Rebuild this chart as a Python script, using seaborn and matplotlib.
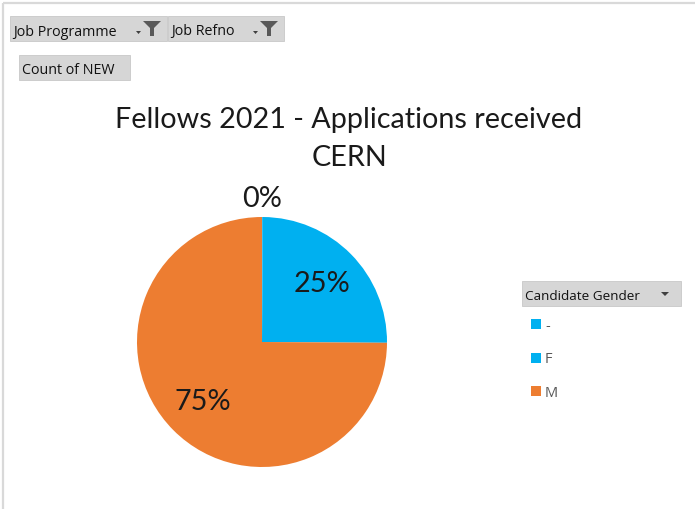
import matplotlib
matplotlib.use("Agg")
import matplotlib.pyplot as plt
import seaborn as sns
import numpy as np
from matplotlib.patches import Rectangle, Polygon

sns.set_theme(style="white")
plt.rcParams['font.family'] = ['Lato', 'DejaVu Sans']

# ---- data ----
categories = ["-", "F", "M"]
share_pct = [0.1, 25.0, 74.9]
pct_labels = ["0%", "25%", "75%"]
title_lines = ["Fellows 2021 - Applications received", "CERN"]
filter_buttons = ["Job Programme", "Job Refno"]
value_button = "Count of NEW"
legend_title = "Candidate Gender"

colors = ["#00B0F0", "#00B0F0", "#ED7D31"]

fig = plt.figure(figsize=(6.95, 5.10), dpi=100)
ax = fig.add_axes([0, 0, 1, 1])

# pie
cx, cy, r = 262, 343, 125
wedges, _ = ax.pie(share_pct, colors=colors, startangle=-90, counterclock=True,
                   center=(cx, cy), radius=r, frame=True,
                   wedgeprops=dict(linewidth=0))
ax.set_xlim(0, 695)
ax.set_ylim(510, 0)
ax.axis("off")

# frame
ax.plot([3, 3], [4, 510], color="#D9D9D9", lw=1.6, solid_capstyle="butt")
ax.plot([3, 695], [4, 4], color="#D9D9D9", lw=1.6, solid_capstyle="butt")

for w, lab, pct in zip(wedges, pct_labels, share_pct):
    mid = np.deg2rad((w.theta1 + w.theta2) / 2)
    d = 1.15 if pct < 1 else 0.67
    ax.text(cx + d * r * np.cos(mid), cy + d * r * np.sin(mid), lab,
            ha="center", va="center", fontsize=20.8, color="#1a1a1a")

# title
ax.text(349, 120, title_lines[0], ha="center", va="center", fontsize=20.7, color="#1a1a1a")
ax.text(349, 158, title_lines[1], ha="center", va="center", fontsize=20.7, color="#1a1a1a")

BTN = "#D6D6D6"
def button(x0, x1, y0, y1, label, fs, funnel=False, arrow=False):
    ax.add_patch(Rectangle((x0, y0), x1 - x0, y1 - y0, facecolor=BTN,
                           edgecolor="#C8C8C8", lw=0.6))
    ax.text(x0 + 3, (y0 + y1) / 2 + 2.5, label, ha="left", va="center",
            fontsize=fs, color="#111111", family=["Open Sans", "DejaVu Sans"])
    if funnel:
        fx = x1 - 15
        ax.add_patch(Polygon([[fx - 9, y0 + 5], [fx + 9, y0 + 5], [fx + 2, y0 + 12],
                              [fx + 2, y0 + 20], [fx - 2, y0 + 20], [fx - 2, y0 + 12]],
                             closed=True, facecolor="#595959", edgecolor="none"))
        ax.add_patch(Polygon([[fx - 16, y0 + 15], [fx - 11, y0 + 15], [fx - 13.5, y0 + 18]],
                             closed=True, facecolor="#404040", edgecolor="none"))
    if arrow:
        ax.add_patch(Polygon([[x1 - 20, y0 + 11], [x1 - 12, y0 + 11], [x1 - 16, y0 + 15]],
                             closed=True, facecolor="#404040", edgecolor="none"))

button(10, 167, 17, 42, filter_buttons[0], 10.3, funnel=True)
button(168, 284, 17, 42, filter_buttons[1], 10.3, funnel=True)
button(19, 130, 56, 81, value_button, 10.3)

# legend
button(522, 681, 282, 307, legend_title, 9.7, arrow=True)
for i, (cat, col) in enumerate(zip(categories, colors)):
    y = 325 + i * 33.5
    ax.add_patch(Rectangle((531, y - 5), 10, 10, facecolor=col, edgecolor="none"))
    ax.text(545, y + 1.5, cat, ha="left", va="center", fontsize=10.5,
            color="#595959", family=["Open Sans", "DejaVu Sans"])

fig.savefig("out.png", dpi=100)
